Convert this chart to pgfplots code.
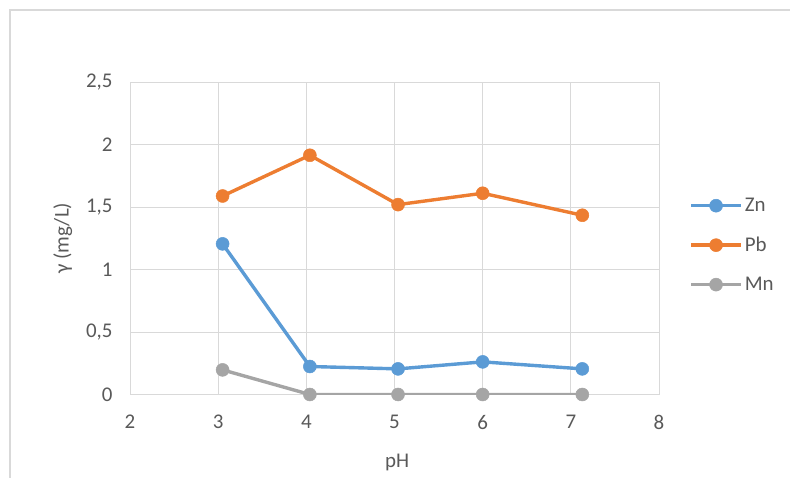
\documentclass[border=0pt]{standalone}
\usepackage{pgfplots}
\pgfplotsset{compat=1.18}
\usepackage{fontspec}
\setmainfont{Carlito}
\definecolor{txt}{HTML}{595959}
\definecolor{gridc}{HTML}{D9D9D9}
\definecolor{zn}{HTML}{5B9BD5}
\definecolor{pb}{HTML}{ED7D31}
\definecolor{mn}{HTML}{A5A5A5}
\begin{document}
\begin{tikzpicture}[x=1bp,y=1bp]
\useasboundingbox (0,0) rectangle (790,478);
\draw[gridc, line width=1.5bp] (10,0) -- (10,468) -- (790,468);
\begin{axis}[
  at={(130bp,83.5bp)}, anchor=south west,
  scale only axis, width=529bp, height=312.5bp,
  xmin=2, xmax=8, ymin=0, ymax=2.5,
  xtick={2,3,...,8}, ytick={0,0.5,...,2.5},
  /pgf/number format/use comma,
  /pgf/number format/assume math mode=true,
  grid=major,
  major grid style={gridc, line width=0.8bp},
  axis line style={gridc, line width=0.8bp},
  tick style={draw=none},
  ticklabel style={font=\fontsize{21}{24}\selectfont, text=txt},
  yticklabel style={xshift=-14bp},
  xticklabel style={yshift=-17bp},
  every axis y label/.style={at={(axis description cs:-0.127,0.5)}, rotate=90, anchor=center, font=\fontsize{21}{24}\selectfont, text=txt},
  every axis x label/.style={at={(axis description cs:0.505,-0.217)}, anchor=center, font=\fontsize{21}{24}\selectfont, text=txt},
  xlabel={pH}, ylabel={γ (mg/L)},
  legend style={draw=none, fill=none, at={(axis description cs:1.057,0.635)}, anchor=north west, font=\fontsize{21}{24}\selectfont, text=txt, row sep=20bp, inner sep=0pt},
  legend cell align=left,
  legend image code/.code={\draw[mark repeat=2,mark phase=2] plot coordinates {(0bp,0bp) (25bp,0bp) (50bp,0bp)};},
  every axis plot/.append style={line width=3.4bp, mark=*, mark size=6.5bp},
]
\addplot[zn, mark options={fill=zn, draw=zn, line width=0.5bp}] coordinates {(3.05,1.205) (4.04,0.224) (5.04,0.205) (6.0,0.261) (7.13,0.205)};
\addlegendentry{Zn}
\addplot[pb, mark options={fill=pb, draw=pb, line width=0.5bp}] coordinates {(3.05,1.588) (4.04,1.914) (5.04,1.519) (6.0,1.610) (7.13,1.434)};
\addlegendentry{Pb}
\addplot[mn, mark options={fill=mn, draw=mn, line width=0.5bp}] coordinates {(3.05,0.197) (4.04,0) (5.04,0) (6.0,0) (7.13,0)};
\addlegendentry{Mn}
\end{axis}
\end{tikzpicture}
\end{document}
